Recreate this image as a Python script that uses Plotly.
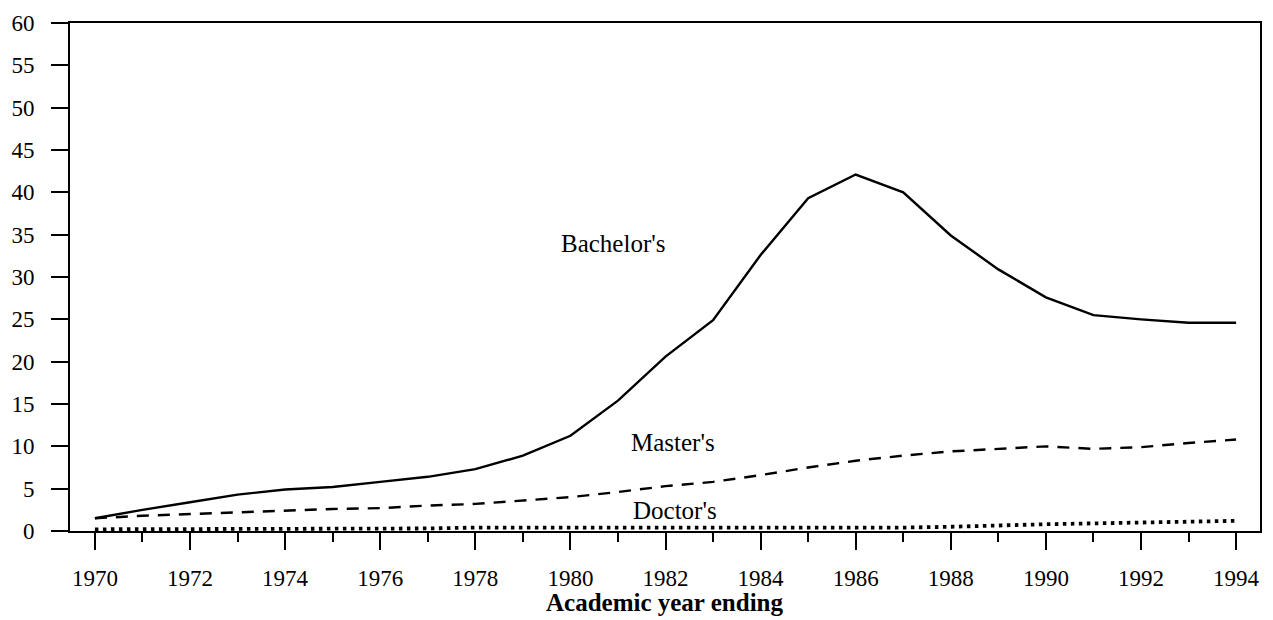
import plotly.graph_objects as go

years = list(range(1970, 1995))
bachelors = [1.5, 2.5, 3.4, 4.3, 4.9, 5.2, 5.8, 6.4, 7.3, 8.9, 11.25, 15.4, 20.6, 24.9,
             32.6, 39.3, 42.1, 40.0, 34.9, 30.9, 27.6, 25.5, 25.0, 24.6, 24.6]
masters = [1.5, 1.8, 2.0, 2.2, 2.4, 2.6, 2.7, 3.0, 3.2, 3.6, 4.0, 4.6, 5.3, 5.8,
           6.6, 7.5, 8.3, 8.9, 9.4, 9.7, 10.0, 9.7, 9.9, 10.4, 10.8]
doctors = [0.2, 0.2, 0.3, 0.3, 0.3, 0.3, 0.3, 0.3, 0.4, 0.4, 0.3, 0.3, 0.3, 0.3,
           0.3, 0.3, 0.4, 0.4, 0.5, 0.7, 0.8, 0.9, 1.0, 1.1, 1.2]
y_ticks = list(range(0, 61, 5))
x_ticks = list(range(1970, 1995, 2))

labels = ["Bachelor's", "Master's", "Doctor's"]
label_x = [1980.9, 1982.15, 1982.2]
label_y = [34.0, 10.4, 2.4]

FONT = "Liberation Serif, Times New Roman, serif"

fig = go.Figure()
fig.add_trace(go.Scatter(x=years, y=bachelors, mode="lines",
                         line=dict(color="black", width=2.4)))
fig.add_trace(go.Scatter(x=years, y=masters, mode="lines",
                         line=dict(color="black", width=2.4, dash="12px,9px")))
fig.add_trace(go.Scatter(x=years, y=doctors, mode="lines",
                         line=dict(color="black", width=3.8, dash="3.5px,4.5px")))

for t, x, y in zip(labels, label_x, label_y):
    fig.add_annotation(x=x, y=y, text=t, showarrow=False,
                       font=dict(family=FONT, size=25, color="black"))

# axis title placed just below the tick labels
fig.add_annotation(x=0.5, xref="paper", yref="paper", y=-(603 - 531) / 512,
                   yanchor="middle", text="<b>Academic year ending</b>",
                   showarrow=False, font=dict(family=FONT, size=25, color="black"))

fig.update_layout(
    width=1273, height=620,
    margin=dict(l=68, r=11, t=19, b=89),
    paper_bgcolor="white", plot_bgcolor="white",
    showlegend=False,
    font=dict(family=FONT, size=23, color="black"),
    xaxis=dict(range=[1969.476, 1994.503], tickvals=x_ticks, ticks="outside",
               ticklen=17, tickwidth=2, tickcolor="black",
               showline=True, linecolor="black", linewidth=2, mirror=True,
               showgrid=False, zeroline=False, ticklabelstandoff=8,
               minor=dict(dtick=1, tick0=1970, ticks="outside", ticklen=9,
                          tickwidth=2, tickcolor="black", showgrid=False)),
    yaxis=dict(range=[0, 60], tickvals=y_ticks, ticks="outside",
               ticklen=17, tickwidth=2, tickcolor="black",
               showline=True, linecolor="black", linewidth=2, mirror=True,
               showgrid=False, zeroline=False, ticklabelstandoff=12),
)

fig.write_html("out.html", config={"displayModeBar": False},
               post_script="document.body.style.margin='0';")
